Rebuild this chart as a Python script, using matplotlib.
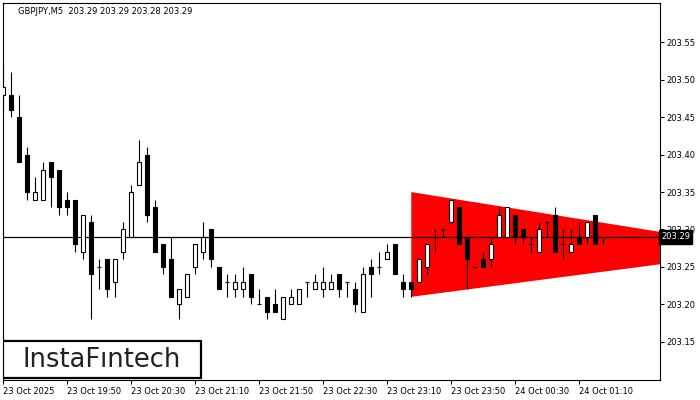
import matplotlib
matplotlib.use("Agg")
import matplotlib.pyplot as plt
from matplotlib.patches import Rectangle

# GBPJPY M5 candles, 23 Oct 19:10 ... 24 Oct 01:25
opens = [203.48, 203.48, 203.45, 203.40, 203.34, 203.34, 203.39, 203.38, 203.34, 203.34,
         203.27, 203.31, 203.25, 203.26, 203.23, 203.27, 203.29, 203.36, 203.40, 203.33,
         203.28, 203.26, 203.20, 203.21, 203.25, 203.27, 203.30, 203.25, 203.23, 203.22,
         203.22, 203.24, 203.20, 203.21, 203.20, 203.18, 203.20, 203.20, 203.23, 203.22,
         203.22, 203.22, 203.24, 203.23, 203.22, 203.19, 203.25, 203.25, 203.26, 203.28,
         203.23, 203.23, 203.23, 203.25, 203.29, 203.30, 203.31, 203.33, 203.29, 203.25,
         203.26, 203.26, 203.29, 203.29, 203.32, 203.30, 203.28, 203.27, 203.31, 203.32,
         203.28, 203.27, 203.29, 203.29, 203.32, 203.29]
highs = [203.52, 203.51, 203.48, 203.41, 203.37, 203.39, 203.39, 203.38, 203.35, 203.34,
         203.32, 203.32, 203.26, 203.26, 203.26, 203.31, 203.36, 203.42, 203.41, 203.34,
         203.28, 203.29, 203.22, 203.24, 203.28, 203.31, 203.30, 203.25, 203.24, 203.24,
         203.25, 203.24, 203.22, 203.21, 203.22, 203.21, 203.22, 203.22, 203.23, 203.24,
         203.25, 203.24, 203.24, 203.23, 203.23, 203.25, 203.26, 203.27, 203.28, 203.28,
         203.24, 203.23, 203.26, 203.28, 203.30, 203.30, 203.34, 203.33, 203.29, 203.25,
         203.27, 203.29, 203.33, 203.33, 203.32, 203.30, 203.29, 203.31, 203.31, 203.33,
         203.30, 203.30, 203.31, 203.31, 203.32, 203.29]
lows = [203.46, 203.45, 203.39, 203.34, 203.34, 203.34, 203.33, 203.32, 203.32, 203.27,
        203.26, 203.18, 203.22, 203.21, 203.21, 203.26, 203.29, 203.36, 203.31, 203.27,
        203.24, 203.21, 203.18, 203.21, 203.24, 203.26, 203.25, 203.22, 203.21, 203.21,
        203.21, 203.20, 203.20, 203.18, 203.19, 203.18, 203.20, 203.20, 203.21, 203.22,
        203.21, 203.22, 203.21, 203.21, 203.19, 203.19, 203.21, 203.24, 203.26, 203.24,
        203.21, 203.21, 203.23, 203.24, 203.27, 203.29, 203.31, 203.28, 203.22, 203.25,
        203.25, 203.25, 203.29, 203.29, 203.28, 203.28, 203.27, 203.27, 203.29, 203.27,
        203.26, 203.27, 203.28, 203.28, 203.28, 203.28]
closes = [203.49, 203.46, 203.39, 203.35, 203.35, 203.38, 203.37, 203.33, 203.33, 203.28,
          203.32, 203.24, 203.25, 203.22, 203.26, 203.30, 203.35, 203.39, 203.32, 203.27,
          203.25, 203.21, 203.22, 203.24, 203.28, 203.29, 203.26, 203.22, 203.23, 203.23,
          203.23, 203.21, 203.20, 203.19, 203.19, 203.21, 203.21, 203.22, 203.23, 203.23,
          203.23, 203.23, 203.22, 203.23, 203.20, 203.24, 203.24, 203.25, 203.27, 203.24,
          203.22, 203.22, 203.26, 203.28, 203.29, 203.30, 203.34, 203.28, 203.26, 203.25,
          203.25, 203.28, 203.32, 203.33, 203.29, 203.29, 203.28, 203.30, 203.31, 203.27,
          203.28, 203.28, 203.28, 203.31, 203.28, 203.29]

current_price = 203.29
# triangle pattern: (bar index, price) vertices
tri_x = [51, 51, 96]
tri_y = [203.35, 203.21, 203.273]

tick_pos = [0, 8, 16, 24, 32, 40, 48, 56, 64, 72]
tick_labels = ["23 Oct 2025", "23 Oct 19:50", "23 Oct 20:30", "23 Oct 21:10", "23 Oct 21:50",
               "23 Oct 22:30", "23 Oct 23:10", "23 Oct 23:50", "24 Oct 00:30", "24 Oct 01:10"]
price_ticks = [203.15, 203.20, 203.25, 203.30, 203.35, 203.40, 203.45, 203.50, 203.55]

fig = plt.figure(figsize=(7, 4), dpi=100)
ax = fig.add_axes([2.7 / 700, 20 / 400, 657.3 / 700, 377 / 400])

ax.fill(tri_x, tri_y, color="#ff0000", lw=0, zorder=1)
ax.axhline(current_price, color="black", lw=0.9, zorder=2)

idx = list(range(len(opens)))
ax.vlines(idx, lows, highs, color="black", lw=0.8, zorder=3)
for i in idx:
    o, c = opens[i], closes[i]
    fc = "white" if c > o else "black"
    ax.bar(i, abs(c - o), bottom=min(o, c), width=0.52, color=fc,
           edgecolor="black", linewidth=0.8, zorder=4)

ax.set_xlim(-0.075, 82.09)
ax.set_ylim(203.0988, 203.6028)

ax.yaxis.tick_right()
ax.set_yticks(price_ticks)
ax.set_yticklabels(["%.2f" % p for p in price_ticks])
ax.tick_params(axis="y", direction="out", length=3, width=0.8, pad=1.5, labelsize=6)
ax.set_xticks(tick_pos)
ax.set_xticklabels(tick_labels)
ax.tick_params(axis="x", direction="out", length=3, width=0.8, pad=2, labelsize=6)
for lbl in ax.get_xticklabels():
    lbl.set_ha("left")
for s in ax.spines.values():
    s.set_linewidth(0.8)

# bid label on the price axis
ax.text(1.002, current_price, "203.29", transform=ax.get_yaxis_transform(),
        ha="left", va="center", fontsize=6, color="white", zorder=10, clip_on=False,
        bbox=dict(boxstyle="square,pad=0.25", fc="black", ec="black"))

fig.text(18 / 700, 1 - 12 / 400, "GBPJPY,M5  203.29 203.29 203.28 203.29",
         fontsize=6, va="center", ha="left")

# logo box
ax.add_patch(Rectangle((0.001, 0.0053), 0.3005, 0.098, transform=ax.transAxes,
                       fc="white", ec="black", lw=1.6, zorder=6))
ax.text(0.151, 0.054, "InstaFıntech", transform=ax.transAxes, ha="center", va="center",
        fontsize=18.5, color="#222222", zorder=7)

fig.savefig("out.png", dpi=100)
